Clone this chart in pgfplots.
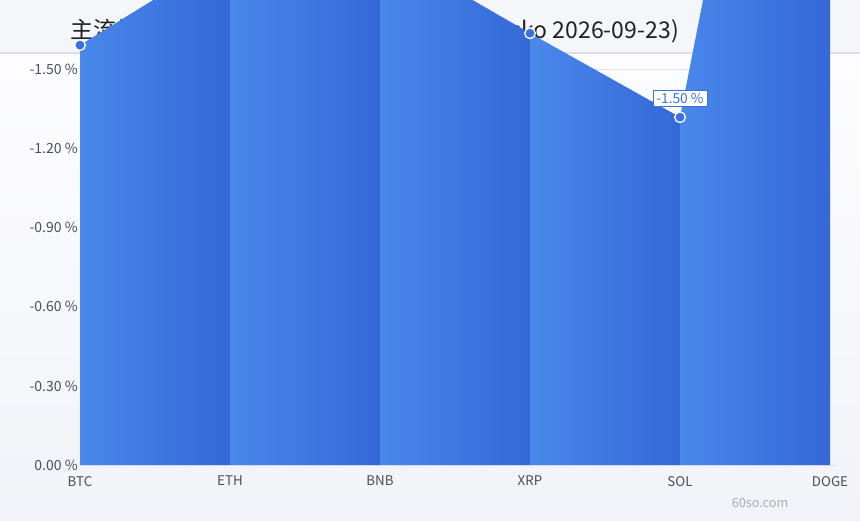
\documentclass[border=0pt]{standalone}
\usepackage{fontspec}
\setmainfont{Noto Sans CJK SC}
\usepackage{pgfplots}
\usepackage{pgfplotstable}
\pgfplotsset{compat=1.18}

\definecolor{headbg}{HTML}{F5F6FA}
\definecolor{headline}{HTML}{DCDEE5}
\definecolor{bgtop}{HTML}{FDFDFF}
\definecolor{bgbot}{HTML}{F1F3F8}
\definecolor{arealight}{HTML}{4A88EA}
\definecolor{areadark}{HTML}{3468D8}
\definecolor{markblue}{HTML}{3A72DC}
\definecolor{ticktext}{HTML}{4A4E58}
\definecolor{gridgrey}{HTML}{E2E5EC}
\definecolor{wm}{HTML}{A9ADB8}

% daily change, percent
\pgfplotstableread{
x y
0 -1.591
1 -1.941
2 -1.965
3 -1.636
4 -1.318
5 -4.21
}\changes

\begin{document}
\begin{tikzpicture}[x=0.75pt,y=0.75pt]
  % background, header band, title (the area is drawn over them)
  \shade[top color=bgtop,bottom color=bgbot] (0,0) rectangle (860,466);
  \fill[headbg] (0,467) rectangle (860,520);
  \fill[headline] (0,466) rectangle (860,468);
  \node[anchor=base west,inner sep=0pt,font=\fontsize{17.3}{21}\selectfont,text=black!87]
    at (70,482) {主流加密货币近24小时涨跌幅一览 (CoinGecko 2026-09-23)};
  \node[font=\fontsize{9.5}{11}\selectfont,text=wm] at (760,17) {60so.com};

  \begin{axis}[
      at={(54.375pt,41.25pt)}, anchor=south west,
      scale only axis, width=573.75pt, height=348.75pt,
      xmin=-0.05, xmax=5.05,
      ymin=-1.7614, ymax=0, y dir=reverse,
      axis line style={draw=none},
      major tick length=0pt,
      ytick={0,-0.3,-0.6,-0.9,-1.2,-1.5},
      yticklabels={0.00 \%,-0.30 \%,-0.60 \%,-0.90 \%,-1.20 \%,-1.50 \%},
      yticklabel style={anchor=east,inner sep=0pt,xshift=4.1pt,
        font=\fontsize{10.5}{12}\selectfont,text=ticktext},
      xtick={0,...,5},
      xticklabels={BTC,ETH,BNB,XRP,SOL,DOGE},
      xticklabel style={anchor=north,inner sep=0pt,yshift=-8pt,
        font=\fontsize{10}{12}\selectfont,text=ticktext},
    ]
    % grid only across the plotted range
    \pgfplotsinvokeforeach{-0.3,-0.6,-0.9,-1.2,-1.5}{
      \draw[gridgrey, line width=0.6pt] (axis cs:0,#1) -- (axis cs:5,#1);
    }
    \draw[gridgrey, line width=0.8pt] (axis cs:0,0) -- (axis cs:5.05,0);

    \addplot[draw=none, left color=arealight, right color=areadark,
      restrict x to domain=0:1] table {\changes} \closedcycle;
    \addplot[draw=none, left color=arealight, right color=areadark,
      restrict x to domain=1:2] table {\changes} \closedcycle;
    \addplot[draw=none, left color=arealight, right color=areadark,
      restrict x to domain=2:3] table {\changes} \closedcycle;
    \addplot[draw=none, left color=arealight, right color=areadark,
      restrict x to domain=3:4] table {\changes} \closedcycle;
    \addplot[draw=none, left color=arealight, right color=areadark,
      restrict x to domain=4:5] table {\changes} \closedcycle;

    \addplot[draw=none, mark=*, mark size=4pt,
      mark options={fill=markblue, draw=white, line width=1pt}] table {\changes};

    \node[draw=markblue, fill=white, text=markblue, line width=0.5pt,
      inner xsep=2.6pt, inner ysep=2.2pt, font=\fontsize{10.3}{12}\selectfont]
      at (axis cs:4,-1.39) {-1.50 \%};
  \end{axis}
\end{tikzpicture}
\end{document}
